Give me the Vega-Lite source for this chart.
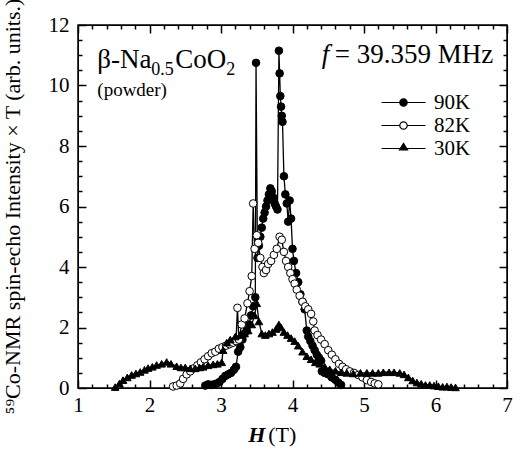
{
  "$schema": "https://vega.github.io/schema/vega-lite/v6.json",
  "width": 429,
  "height": 363,
  "autosize": "none",
  "padding": {"left": 78, "top": 25, "right": 13, "bottom": 61},
  "background": "white",
  "config": {
    "view": {"stroke": "black", "strokeWidth": 1.5},
    "axis": {
      "domainColor": "black",
      "tickColor": "black",
      "tickWidth": 1.5,
      "tickOpacity": 1,
      "ticks": true,
      "zindex": 1,
      "labelFont": "Liberation Serif",
      "labelFontSize": 21,
      "labelColor": "black",
      "grid": false
    }
  },
  "datasets": {
    "nmr": [
      {"series": "90K", "H": 2.78, "I": 0.08}, {"series": "90K", "H": 2.82, "I": 0.12}, {"series": "90K", "H": 2.86, "I": 0.1},
      {"series": "90K", "H": 2.9, "I": 0.12}, {"series": "90K", "H": 2.94, "I": 0.15}, {"series": "90K", "H": 2.98, "I": 0.2},
      {"series": "90K", "H": 3.02, "I": 0.3}, {"series": "90K", "H": 3.06, "I": 0.4}, {"series": "90K", "H": 3.1, "I": 0.45},
      {"series": "90K", "H": 3.14, "I": 0.5}, {"series": "90K", "H": 3.18, "I": 0.6}, {"series": "90K", "H": 3.21, "I": 0.7},
      {"series": "90K", "H": 3.24, "I": 1.2}, {"series": "90K", "H": 3.27, "I": 1.35}, {"series": "90K", "H": 3.3, "I": 1.6},
      {"series": "90K", "H": 3.33, "I": 1.8}, {"series": "90K", "H": 3.36, "I": 1.9}, {"series": "90K", "H": 3.39, "I": 2.1},
      {"series": "90K", "H": 3.42, "I": 2.4}, {"series": "90K", "H": 3.45, "I": 2.7}, {"series": "90K", "H": 3.48, "I": 3.0},
      {"series": "90K", "H": 3.49, "I": 10.75}, {"series": "90K", "H": 3.51, "I": 4.3}, {"series": "90K", "H": 3.53, "I": 4.7},
      {"series": "90K", "H": 3.55, "I": 5.0}, {"series": "90K", "H": 3.57, "I": 5.3}, {"series": "90K", "H": 3.59, "I": 5.6},
      {"series": "90K", "H": 3.61, "I": 5.8}, {"series": "90K", "H": 3.63, "I": 6.0}, {"series": "90K", "H": 3.65, "I": 6.2},
      {"series": "90K", "H": 3.67, "I": 6.4}, {"series": "90K", "H": 3.69, "I": 6.6}, {"series": "90K", "H": 3.71, "I": 6.5},
      {"series": "90K", "H": 3.73, "I": 6.3}, {"series": "90K", "H": 3.75, "I": 6.1}, {"series": "90K", "H": 3.77, "I": 6.0},
      {"series": "90K", "H": 3.79, "I": 5.9}, {"series": "90K", "H": 3.81, "I": 11.15}, {"series": "90K", "H": 3.82, "I": 10.4},
      {"series": "90K", "H": 3.83, "I": 9.65}, {"series": "90K", "H": 3.84, "I": 9.3}, {"series": "90K", "H": 3.85, "I": 9.0},
      {"series": "90K", "H": 3.86, "I": 8.8}, {"series": "90K", "H": 3.88, "I": 7.0}, {"series": "90K", "H": 3.9, "I": 6.4},
      {"series": "90K", "H": 3.92, "I": 6.1}, {"series": "90K", "H": 3.94, "I": 5.5}, {"series": "90K", "H": 3.96, "I": 6.2},
      {"series": "90K", "H": 3.98, "I": 5.6}, {"series": "90K", "H": 4.0, "I": 4.6}, {"series": "90K", "H": 4.02, "I": 4.2},
      {"series": "90K", "H": 4.05, "I": 3.8}, {"series": "90K", "H": 4.08, "I": 3.5}, {"series": "90K", "H": 4.11, "I": 3.1},
      {"series": "90K", "H": 4.14, "I": 2.85}, {"series": "90K", "H": 4.17, "I": 2.6}, {"series": "90K", "H": 4.2, "I": 1.9},
      {"series": "90K", "H": 4.22, "I": 1.7}, {"series": "90K", "H": 4.25, "I": 1.55}, {"series": "90K", "H": 4.28, "I": 1.4},
      {"series": "90K", "H": 4.31, "I": 1.25}, {"series": "90K", "H": 4.34, "I": 1.1}, {"series": "90K", "H": 4.37, "I": 1.0},
      {"series": "90K", "H": 4.4, "I": 0.9}, {"series": "90K", "H": 4.41, "I": 0.55}, {"series": "90K", "H": 4.45, "I": 0.5},
      {"series": "90K", "H": 4.5, "I": 0.45}, {"series": "90K", "H": 4.55, "I": 0.35}, {"series": "90K", "H": 4.6, "I": 0.27},
      {"series": "90K", "H": 4.64, "I": 0.18}, {"series": "90K", "H": 4.68, "I": 0.1},

      {"series": "82K", "H": 2.33, "I": 0.05}, {"series": "82K", "H": 2.38, "I": 0.08}, {"series": "82K", "H": 2.43, "I": 0.15},
      {"series": "82K", "H": 2.47, "I": 0.3}, {"series": "82K", "H": 2.52, "I": 0.45}, {"series": "82K", "H": 2.57, "I": 0.55},
      {"series": "82K", "H": 2.62, "I": 0.65}, {"series": "82K", "H": 2.67, "I": 0.75}, {"series": "82K", "H": 2.72, "I": 0.85},
      {"series": "82K", "H": 2.77, "I": 0.95}, {"series": "82K", "H": 2.82, "I": 1.05}, {"series": "82K", "H": 2.87, "I": 1.15},
      {"series": "82K", "H": 2.92, "I": 1.2}, {"series": "82K", "H": 2.97, "I": 1.3}, {"series": "82K", "H": 3.02, "I": 1.35},
      {"series": "82K", "H": 3.07, "I": 1.4}, {"series": "82K", "H": 3.12, "I": 1.45}, {"series": "82K", "H": 3.17, "I": 1.5},
      {"series": "82K", "H": 3.21, "I": 1.55}, {"series": "82K", "H": 3.23, "I": 2.65}, {"series": "82K", "H": 3.25, "I": 1.6},
      {"series": "82K", "H": 3.29, "I": 2.1}, {"series": "82K", "H": 3.33, "I": 2.3}, {"series": "82K", "H": 3.37, "I": 2.8},
      {"series": "82K", "H": 3.4, "I": 3.2}, {"series": "82K", "H": 3.43, "I": 3.7}, {"series": "82K", "H": 3.45, "I": 6.1},
      {"series": "82K", "H": 3.47, "I": 4.6}, {"series": "82K", "H": 3.5, "I": 5.05}, {"series": "82K", "H": 3.52, "I": 4.8},
      {"series": "82K", "H": 3.55, "I": 4.3}, {"series": "82K", "H": 3.58, "I": 4.0}, {"series": "82K", "H": 3.6, "I": 3.8},
      {"series": "82K", "H": 3.63, "I": 3.9}, {"series": "82K", "H": 3.66, "I": 4.1}, {"series": "82K", "H": 3.7, "I": 4.2},
      {"series": "82K", "H": 3.74, "I": 4.4}, {"series": "82K", "H": 3.78, "I": 4.6}, {"series": "82K", "H": 3.82, "I": 5.0},
      {"series": "82K", "H": 3.85, "I": 4.9}, {"series": "82K", "H": 3.88, "I": 4.5}, {"series": "82K", "H": 3.91, "I": 4.2},
      {"series": "82K", "H": 3.94, "I": 4.0}, {"series": "82K", "H": 3.97, "I": 3.8}, {"series": "82K", "H": 4.0, "I": 3.6},
      {"series": "82K", "H": 4.03, "I": 3.45}, {"series": "82K", "H": 4.06, "I": 3.25}, {"series": "82K", "H": 4.1, "I": 3.05},
      {"series": "82K", "H": 4.14, "I": 2.85}, {"series": "82K", "H": 4.18, "I": 2.7}, {"series": "82K", "H": 4.22, "I": 2.6},
      {"series": "82K", "H": 4.26, "I": 2.45}, {"series": "82K", "H": 4.29, "I": 2.2}, {"series": "82K", "H": 4.31, "I": 1.9},
      {"series": "82K", "H": 4.35, "I": 1.75}, {"series": "82K", "H": 4.4, "I": 1.6}, {"series": "82K", "H": 4.45, "I": 1.45},
      {"series": "82K", "H": 4.5, "I": 1.25}, {"series": "82K", "H": 4.55, "I": 1.1}, {"series": "82K", "H": 4.6, "I": 0.95},
      {"series": "82K", "H": 4.65, "I": 0.8}, {"series": "82K", "H": 4.7, "I": 0.7}, {"series": "82K", "H": 4.75, "I": 0.62},
      {"series": "82K", "H": 4.8, "I": 0.55}, {"series": "82K", "H": 4.86, "I": 0.5}, {"series": "82K", "H": 4.92, "I": 0.43},
      {"series": "82K", "H": 4.98, "I": 0.35}, {"series": "82K", "H": 5.04, "I": 0.26}, {"series": "82K", "H": 5.1, "I": 0.2},
      {"series": "82K", "H": 5.15, "I": 0.15}, {"series": "82K", "H": 5.2, "I": 0.12},

      {"series": "30K", "H": 1.52, "I": 0.03}, {"series": "30K", "H": 1.58, "I": 0.15}, {"series": "30K", "H": 1.63, "I": 0.26},
      {"series": "30K", "H": 1.69, "I": 0.35}, {"series": "30K", "H": 1.75, "I": 0.43}, {"series": "30K", "H": 1.81, "I": 0.48},
      {"series": "30K", "H": 1.87, "I": 0.53}, {"series": "30K", "H": 1.93, "I": 0.6}, {"series": "30K", "H": 1.98, "I": 0.66},
      {"series": "30K", "H": 2.04, "I": 0.7}, {"series": "30K", "H": 2.1, "I": 0.76}, {"series": "30K", "H": 2.17, "I": 0.8},
      {"series": "30K", "H": 2.24, "I": 0.86}, {"series": "30K", "H": 2.3, "I": 0.8}, {"series": "30K", "H": 2.38, "I": 0.72},
      {"series": "30K", "H": 2.44, "I": 0.68}, {"series": "30K", "H": 2.5, "I": 0.68}, {"series": "30K", "H": 2.57, "I": 0.65},
      {"series": "30K", "H": 2.64, "I": 0.65}, {"series": "30K", "H": 2.7, "I": 0.68}, {"series": "30K", "H": 2.75, "I": 0.7},
      {"series": "30K", "H": 2.82, "I": 0.75}, {"series": "30K", "H": 2.89, "I": 0.78}, {"series": "30K", "H": 2.95, "I": 0.8},
      {"series": "30K", "H": 3.01, "I": 0.85}, {"series": "30K", "H": 3.03, "I": 1.25}, {"series": "30K", "H": 3.08, "I": 1.5},
      {"series": "30K", "H": 3.13, "I": 1.6}, {"series": "30K", "H": 3.2, "I": 1.7}, {"series": "30K", "H": 3.27, "I": 1.75},
      {"series": "30K", "H": 3.33, "I": 1.8}, {"series": "30K", "H": 3.38, "I": 1.9}, {"series": "30K", "H": 3.43, "I": 2.1},
      {"series": "30K", "H": 3.47, "I": 2.4}, {"series": "30K", "H": 3.5, "I": 2.8}, {"series": "30K", "H": 3.53, "I": 2.2},
      {"series": "30K", "H": 3.57, "I": 1.8}, {"series": "30K", "H": 3.62, "I": 1.75}, {"series": "30K", "H": 3.67, "I": 1.8},
      {"series": "30K", "H": 3.72, "I": 1.85}, {"series": "30K", "H": 3.77, "I": 1.95}, {"series": "30K", "H": 3.81, "I": 2.1},
      {"series": "30K", "H": 3.84, "I": 2.0}, {"series": "30K", "H": 3.88, "I": 1.85}, {"series": "30K", "H": 3.93, "I": 1.75},
      {"series": "30K", "H": 3.98, "I": 1.65}, {"series": "30K", "H": 4.03, "I": 1.55}, {"series": "30K", "H": 4.08, "I": 1.4},
      {"series": "30K", "H": 4.14, "I": 1.2}, {"series": "30K", "H": 4.2, "I": 1.05}, {"series": "30K", "H": 4.26, "I": 0.95},
      {"series": "30K", "H": 4.32, "I": 0.85}, {"series": "30K", "H": 4.38, "I": 0.8}, {"series": "30K", "H": 4.45, "I": 0.7},
      {"series": "30K", "H": 4.52, "I": 0.62}, {"series": "30K", "H": 4.6, "I": 0.57}, {"series": "30K", "H": 4.68, "I": 0.52},
      {"series": "30K", "H": 4.76, "I": 0.5}, {"series": "30K", "H": 4.85, "I": 0.48}, {"series": "30K", "H": 4.95, "I": 0.5},
      {"series": "30K", "H": 5.04, "I": 0.5}, {"series": "30K", "H": 5.12, "I": 0.5}, {"series": "30K", "H": 5.2, "I": 0.5},
      {"series": "30K", "H": 5.27, "I": 0.52}, {"series": "30K", "H": 5.35, "I": 0.52}, {"series": "30K", "H": 5.42, "I": 0.52},
      {"series": "30K", "H": 5.5, "I": 0.5}, {"series": "30K", "H": 5.56, "I": 0.45}, {"series": "30K", "H": 5.62, "I": 0.35},
      {"series": "30K", "H": 5.68, "I": 0.25}, {"series": "30K", "H": 5.74, "I": 0.18}, {"series": "30K", "H": 5.8, "I": 0.14},
      {"series": "30K", "H": 5.86, "I": 0.1}, {"series": "30K", "H": 5.92, "I": 0.1}, {"series": "30K", "H": 5.98, "I": 0.08},
      {"series": "30K", "H": 6.04, "I": 0.06}, {"series": "30K", "H": 6.1, "I": 0.04}, {"series": "30K", "H": 6.16, "I": 0.05},
      {"series": "30K", "H": 6.22, "I": 0.03}, {"series": "30K", "H": 6.28, "I": 0.02}
    ],
    "one": [{}]
  },
  "data": {"name": "nmr"},
  "resolve": {
    "axis": {"x": "independent", "y": "independent"},
    "scale": {"shape": "independent", "fill": "independent", "stroke": "independent"}
  },
  "layer": [
    {
      "mark": {"type": "line", "color": "black", "strokeWidth": 1.3},
      "encoding": {
        "x": {
          "field": "H", "type": "quantitative",
          "scale": {"domain": [1, 7], "nice": false, "zero": false},
          "axis": {
            "orient": "bottom",
            "values": [1, 1.2, 1.4, 1.6, 1.8, 2, 2.2, 2.4, 2.6, 2.8, 3, 3.2, 3.4, 3.6, 3.8, 4, 4.2, 4.4, 4.6, 4.8, 5, 5.2, 5.4, 5.6, 5.8, 6, 6.2, 6.4, 6.6, 6.8, 7],
            "labelExpr": "datum.value % 1 == 0 ? '' + datum.value : ''",
            "ticks": true,
            "tickSize": {"condition": {"test": "datum.value % 1 == 0", "value": -8}, "value": -4},
            "labelPadding": 14,
            "labelFlush": false,
            "labelOverlap": false,
            "title": null
          }
        },
        "y": {
          "field": "I", "type": "quantitative",
          "scale": {"domain": [0, 12], "nice": false},
          "axis": {
            "orient": "left",
            "values": [0, 0.5, 1, 1.5, 2, 2.5, 3, 3.5, 4, 4.5, 5, 5.5, 6, 6.5, 7, 7.5, 8, 8.5, 9, 9.5, 10, 10.5, 11, 11.5, 12],
            "labelExpr": "datum.value % 2 == 0 ? '' + datum.value : ''",
            "ticks": true,
            "tickSize": {"condition": {"test": "datum.value % 2 == 0", "value": -8}, "value": -4},
            "labelPadding": 17,
            "labelOverlap": false,
            "title": "⁵⁹Co-NMR spin-echo Intensity  × T (arb. units.)",
            "titleFont": "Liberation Serif",
            "titleFontSize": 22,
            "titleFontWeight": "normal",
            "titleColor": "black",
            "titleAngle": -90,
            "titleX": -66,
            "titleY": 181,
            "titleAlign": "center",
            "titleBaseline": "middle"
          }
        },
        "detail": {"field": "series"}
      }
    },
    {
      "mark": {"type": "point", "filled": true, "stroke": "black", "strokeWidth": 1, "opacity": 1},
      "encoding": {
        "x": {
          "field": "H", "type": "quantitative",
          "scale": {"domain": [1, 7], "nice": false, "zero": false},
          "axis": {
            "orient": "top",
            "values": [1, 1.2, 1.4, 1.6, 1.8, 2, 2.2, 2.4, 2.6, 2.8, 3, 3.2, 3.4, 3.6, 3.8, 4, 4.2, 4.4, 4.6, 4.8, 5, 5.2, 5.4, 5.6, 5.8, 6, 6.2, 6.4, 6.6, 6.8, 7],
            "labels": false,
            "ticks": true,
            "tickSize": {"condition": {"test": "datum.value % 1 == 0", "value": -8}, "value": -4},
            "title": null
          }
        },
        "y": {
          "field": "I", "type": "quantitative",
          "scale": {"domain": [0, 12], "nice": false},
          "axis": {
            "orient": "right",
            "values": [0, 0.5, 1, 1.5, 2, 2.5, 3, 3.5, 4, 4.5, 5, 5.5, 6, 6.5, 7, 7.5, 8, 8.5, 9, 9.5, 10, 10.5, 11, 11.5, 12],
            "labels": false,
            "ticks": true,
            "tickSize": {"condition": {"test": "datum.value % 2 == 0", "value": -8}, "value": -4},
            "title": null
          }
        },
        "shape": {
          "field": "series", "type": "nominal",
          "scale": {"domain": ["90K", "82K", "30K"], "range": ["circle", "circle", "triangle-up"]},
          "legend": null
        },
        "fill": {
          "field": "series", "type": "nominal",
          "scale": {"domain": ["90K", "82K", "30K"], "range": ["black", "white", "black"]},
          "legend": null
        },
        "size": {"value": 58}
      }
    },
    {
      "transform": [{"filter": "false"}],
      "mark": {"type": "point", "filled": true, "strokeWidth": 1.2, "opacity": 1},
      "encoding": {
        "shape": {
          "field": "series", "type": "nominal",
          "scale": {
            "domain": ["90K", "82K", "30K"],
            "range": [
              "M-2.5,0H-0.42M0.42,0H2.5M0.42,0A0.42,0.42 0 1 1 -0.42,0A0.42,0.42 0 1 1 0.42,0Z",
              "M-2.5,0H-0.42M0.42,0H2.5M0.42,0A0.42,0.42 0 1 1 -0.42,0A0.42,0.42 0 1 1 0.42,0Z",
              "M-2.5,0H2.5M0,-0.58L0.46,0.16L-0.46,0.16Z"
            ]
          },
          "legend": {
            "title": null, "orient": "none", "legendX": 315, "legendY": 67, "padding": 0,
            "symbolSize": 310, "symbolStrokeWidth": 1.2, "symbolOpacity": 1,
            "labelFont": "Liberation Serif", "labelFontSize": 21, "labelColor": "black",
            "labelOffset": 20, "rowPadding": 1
          }
        },
        "fill": {
          "field": "series", "type": "nominal",
          "scale": {"domain": ["90K", "82K", "30K"], "range": ["black", "white", "black"]},
          "legend": {
            "title": null, "orient": "none", "legendX": 315, "legendY": 67, "padding": 0,
            "symbolSize": 310, "symbolStrokeWidth": 1.2, "symbolOpacity": 1,
            "labelFont": "Liberation Serif", "labelFontSize": 21, "labelColor": "black",
            "labelOffset": 20, "rowPadding": 1
          }
        },
        "stroke": {
          "field": "series", "type": "nominal",
          "scale": {"domain": ["90K", "82K", "30K"], "range": ["black", "black", "black"]},
          "legend": {
            "title": null, "orient": "none", "legendX": 315, "legendY": 67, "padding": 0,
            "symbolSize": 310, "symbolStrokeWidth": 1.2, "symbolOpacity": 1,
            "labelFont": "Liberation Serif", "labelFontSize": 21, "labelColor": "black",
            "labelOffset": 20, "rowPadding": 1
          }
        }
      }
    },
    {
      "data": {"name": "one"},
      "mark": {"type": "text", "text": "β-Na", "align": "left", "baseline": "alphabetic", "font": "Liberation Serif", "fontSize": 27, "color": "black"},
      "encoding": {
        "x": {"datum": 1.27, "type": "quantitative", "scale": {"domain": [1, 7], "nice": false, "zero": false}, "axis": null},
        "y": {"datum": 10.58, "type": "quantitative", "scale": {"domain": [0, 12], "nice": false}, "axis": null}
      }
    },
    {
      "data": {"name": "one"},
      "mark": {"type": "text", "text": "0.5", "align": "left", "baseline": "alphabetic", "font": "Liberation Serif", "fontSize": 18, "color": "black", "dx": 54, "dy": 7},
      "encoding": {
        "x": {"datum": 1.27, "type": "quantitative", "scale": {"domain": [1, 7], "nice": false, "zero": false}, "axis": null},
        "y": {"datum": 10.58, "type": "quantitative", "scale": {"domain": [0, 12], "nice": false}, "axis": null}
      }
    },
    {
      "data": {"name": "one"},
      "mark": {"type": "text", "text": "CoO", "align": "left", "baseline": "alphabetic", "font": "Liberation Serif", "fontSize": 27, "color": "black", "dx": 78},
      "encoding": {
        "x": {"datum": 1.27, "type": "quantitative", "scale": {"domain": [1, 7], "nice": false, "zero": false}, "axis": null},
        "y": {"datum": 10.58, "type": "quantitative", "scale": {"domain": [0, 12], "nice": false}, "axis": null}
      }
    },
    {
      "data": {"name": "one"},
      "mark": {"type": "text", "text": "2", "align": "left", "baseline": "alphabetic", "font": "Liberation Serif", "fontSize": 18, "color": "black", "dx": 129, "dy": 7},
      "encoding": {
        "x": {"datum": 1.27, "type": "quantitative", "scale": {"domain": [1, 7], "nice": false, "zero": false}, "axis": null},
        "y": {"datum": 10.58, "type": "quantitative", "scale": {"domain": [0, 12], "nice": false}, "axis": null}
      }
    },
    {
      "data": {"name": "one"},
      "mark": {"type": "text", "text": "(powder)", "align": "left", "baseline": "alphabetic", "font": "Liberation Serif", "fontSize": 19, "color": "black"},
      "encoding": {
        "x": {"datum": 1.27, "type": "quantitative", "scale": {"domain": [1, 7], "nice": false, "zero": false}, "axis": null},
        "y": {"datum": 9.65, "type": "quantitative", "scale": {"domain": [0, 12], "nice": false}, "axis": null}
      }
    },
    {
      "data": {"name": "one"},
      "mark": {"type": "text", "text": "f", "align": "left", "baseline": "alphabetic", "font": "Liberation Serif", "fontSize": 27, "fontStyle": "italic", "color": "black"},
      "encoding": {
        "x": {"datum": 4.41, "type": "quantitative", "scale": {"domain": [1, 7], "nice": false, "zero": false}, "axis": null},
        "y": {"datum": 10.74, "type": "quantitative", "scale": {"domain": [0, 12], "nice": false}, "axis": null}
      }
    },
    {
      "data": {"name": "one"},
      "mark": {"type": "text", "text": "= 39.359 MHz", "align": "left", "baseline": "alphabetic", "font": "Liberation Serif", "fontSize": 27, "color": "black", "dx": 13},
      "encoding": {
        "x": {"datum": 4.41, "type": "quantitative", "scale": {"domain": [1, 7], "nice": false, "zero": false}, "axis": null},
        "y": {"datum": 10.74, "type": "quantitative", "scale": {"domain": [0, 12], "nice": false}, "axis": null}
      }
    },
    {
      "data": {"name": "one"},
      "mark": {"type": "text", "text": "H", "align": "left", "baseline": "alphabetic", "font": "Liberation Serif", "fontSize": 22, "fontStyle": "italic", "fontWeight": "bold", "color": "black"},
      "encoding": {
        "x": {"datum": 3.38, "type": "quantitative", "scale": {"domain": [1, 7], "nice": false, "zero": false}, "axis": null},
        "y": {"datum": -1.8, "type": "quantitative", "scale": {"domain": [0, 12], "nice": false}, "axis": null}
      }
    },
    {
      "data": {"name": "one"},
      "mark": {"type": "text", "text": "(T)", "align": "left", "baseline": "alphabetic", "font": "Liberation Serif", "fontSize": 22, "color": "black", "dx": 20},
      "encoding": {
        "x": {"datum": 3.38, "type": "quantitative", "scale": {"domain": [1, 7], "nice": false, "zero": false}, "axis": null},
        "y": {"datum": -1.8, "type": "quantitative", "scale": {"domain": [0, 12], "nice": false}, "axis": null}
      }
    }
  ]
}
